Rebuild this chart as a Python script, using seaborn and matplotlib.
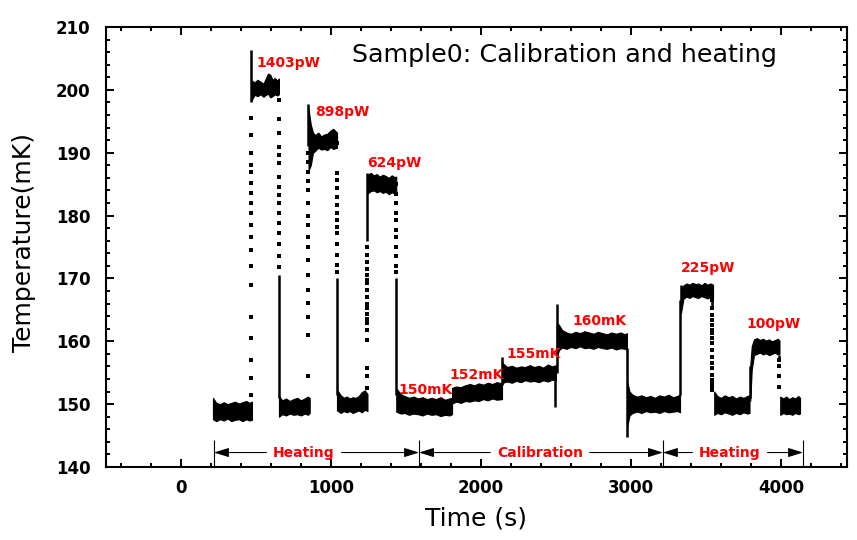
import numpy as np
import pandas as pd
import matplotlib
matplotlib.use("Agg")
import matplotlib.pyplot as plt
from matplotlib.ticker import MultipleLocator
import seaborn as sns

# ---------------------------------------------------------------------------
# Plateaus of the temperature trace: time (s) and the upper / lower edge of the
# noise band (mK) along each plateau.
# ---------------------------------------------------------------------------
base1_t = [213, 235, 260, 285, 310, 335, 360, 385, 410, 435, 455, 473]
base1_hi = [151.0, 150.2, 150.0, 150.3, 150.0, 150.2, 150.4, 150.1, 150.3, 150.5, 150.2, 150.4]
base1_lo = [147.6, 147.3, 147.6, 147.4, 147.7, 147.3, 147.5, 147.6, 147.3, 147.6, 147.4, 147.5]

p1403_t = [470, 490, 510, 530, 550, 565, 580, 595, 610, 625, 640, 653]
p1403_hi = [201.5, 201.2, 201.6, 201.3, 201.0, 201.8, 202.6, 202.4, 201.6, 201.9, 201.5, 201.8]
p1403_lo = [198.3, 199.2, 199.0, 199.3, 198.9, 199.2, 199.4, 198.8, 199.0, 199.3, 199.1, 199.3]

base2_t = [653, 675, 700, 725, 750, 775, 800, 825, 845, 858]
base2_hi = [151.3, 150.6, 150.9, 150.5, 150.8, 151.0, 150.6, 150.9, 151.2, 151.0]
base2_lo = [148.0, 148.4, 148.2, 148.5, 148.3, 148.4, 148.2, 148.5, 148.3, 148.6]

p898_t = [850, 865, 880, 895, 915, 935, 955, 975, 995, 1015, 1040]
p898_hi = [197.0, 194.5, 193.2, 192.8, 193.2, 192.6, 192.9, 193.0, 193.5, 193.8, 193.2]
p898_lo = [187.2, 188.0, 190.0, 190.3, 190.8, 190.5, 190.6, 190.4, 190.9, 190.6, 190.8]

base3_t = [1040, 1065, 1085, 1105, 1125, 1145, 1165, 1185, 1205, 1225, 1243]
base3_hi = [152.3, 151.4, 151.0, 151.2, 150.9, 151.1, 151.0, 151.3, 151.9, 152.2, 151.6]
base3_lo = [149.0, 148.6, 148.9, 148.7, 148.9, 148.6, 148.8, 149.0, 148.7, 149.1, 148.9]

p624_t = [1243, 1265, 1285, 1305, 1325, 1345, 1365, 1385, 1405, 1425, 1435]
p624_hi = [186.5, 186.8, 186.4, 186.6, 186.2, 186.5, 186.3, 186.0, 186.4, 186.1, 186.2]
p624_lo = [183.5, 183.9, 184.0, 183.7, 183.9, 183.6, 183.8, 183.4, 183.7, 183.5, 183.6]

c150_t = [1435, 1465, 1490, 1520, 1550, 1580, 1610, 1640, 1670, 1700, 1730, 1760, 1790, 1807]
c150_hi = [152.5, 151.6, 151.3, 151.0, 151.2, 150.9, 151.1, 150.8, 151.0, 150.8, 151.1, 150.7, 150.9, 151.0]
c150_lo = [148.8, 148.5, 148.6, 148.3, 148.5, 148.4, 148.2, 148.5, 148.3, 148.4, 148.1, 148.3, 148.2, 148.4]

c152_t = [1807, 1835, 1865, 1895, 1925, 1955, 1985, 2015, 2045, 2075, 2105, 2140]
c152_hi = [152.6, 152.8, 152.7, 153.0, 153.2, 153.0, 153.3, 153.1, 153.4, 153.2, 153.5, 153.3]
c152_lo = [150.1, 150.4, 150.2, 150.5, 150.4, 150.6, 150.5, 150.8, 150.6, 150.9, 150.7, 150.8]

c155_t = [2140, 2155, 2175, 2205, 2235, 2265, 2295, 2325, 2355, 2385, 2415, 2445, 2475, 2500]
c155_hi = [156.6, 156.3, 155.9, 156.1, 155.8, 156.0, 155.9, 156.2, 155.9, 156.1, 155.8, 156.3, 156.0, 156.2]
c155_lo = [153.2, 153.5, 153.6, 153.4, 153.7, 153.5, 153.8, 153.6, 153.7, 153.5, 153.8, 153.6, 153.9, 153.7]

c160_t = [2505, 2520, 2540, 2570, 2600, 2630, 2660, 2690, 2720, 2750, 2780, 2810, 2840, 2870, 2900, 2930, 2960, 2973]
c160_hi = [163.0, 162.6, 161.8, 161.4, 161.2, 161.5, 161.3, 161.6, 161.4, 161.2, 161.5, 161.3, 161.1, 161.4, 161.2, 161.4, 161.1, 161.3]
c160_lo = [157.5, 158.6, 159.0, 158.8, 159.1, 158.9, 159.2, 158.9, 159.0, 158.8, 159.1, 158.9, 158.8, 159.0, 158.7, 158.9, 158.8, 158.6]

base5_t = [2975, 2990, 3010, 3040, 3070, 3100, 3130, 3160, 3190, 3220, 3250, 3280, 3310, 3327]
base5_hi = [153.5, 152.0, 151.5, 151.2, 151.4, 151.1, 151.3, 151.0, 151.4, 151.2, 151.5, 151.1, 151.3, 151.6]
base5_lo = [146.5, 148.2, 148.6, 148.8, 148.6, 148.9, 148.7, 148.8, 148.6, 148.9, 148.7, 148.8, 148.9, 148.7]

p225_t = [3333, 3350, 3370, 3390, 3410, 3430, 3450, 3470, 3490, 3510, 3530, 3547]
p225_hi = [168.2, 168.9, 169.2, 169.0, 169.3, 169.1, 169.2, 168.9, 169.3, 169.0, 169.2, 169.0]
p225_lo = [164.5, 166.8, 167.1, 166.9, 167.2, 167.0, 166.9, 167.2, 167.0, 166.8, 167.1, 166.9]

base6_t = [3555, 3575, 3600, 3625, 3650, 3675, 3700, 3725, 3750, 3775, 3790]
base6_hi = [152.0, 151.3, 151.0, 151.4, 151.1, 151.3, 150.9, 151.2, 151.0, 151.3, 151.4]
base6_lo = [148.3, 148.6, 148.4, 148.7, 148.5, 148.3, 148.6, 148.4, 148.7, 148.5, 148.6]

p100_t = [3795, 3805, 3820, 3840, 3860, 3880, 3900, 3920, 3940, 3960, 3980, 3990]
p100_hi = [156.0, 159.2, 160.3, 160.5, 160.2, 160.4, 160.1, 160.3, 160.0, 160.2, 160.4, 160.1]
p100_lo = [150.5, 155.5, 157.8, 158.0, 158.2, 157.9, 158.1, 157.8, 158.0, 158.2, 157.9, 158.0]

base7_t = [3995, 4015, 4035, 4055, 4075, 4095, 4115, 4127]
base7_hi = [151.2, 150.9, 151.2, 150.8, 151.1, 150.9, 151.3, 151.0]
base7_lo = [148.3, 148.6, 148.4, 148.5, 148.3, 148.6, 148.4, 148.5]

# ---------------------------------------------------------------------------
# Switching edges: time (s) of each edge, isolated readings (mK) recorded while
# the temperature moved, and the densely sampled span (mK) of each edge.
# ---------------------------------------------------------------------------
edge_times = [467, 650, 849, 1040, 1242, 1433, 2143, 2493, 2505, 2971, 3327, 3336, 3543, 3792, 3989]

edge1_dots = [151.5, 154.2, 157.0, 160.5, 163.9, 169.0, 172.0, 174.5, 176.6, 178.5, 180.4,
              182.0, 183.6, 185.2, 187.0, 188.0, 190.0, 192.8, 195.5]
edge2_dots = [198.4, 195.4, 193.1, 190.9, 189.6, 188.4, 186.1, 184.5, 183.3, 182.0, 180.4,
              178.8, 177.2, 175.5, 173.6, 171.8]
edge3_dots = [154.4, 161.0, 163.9, 166.1, 168.2, 170.5, 173.0, 175.0, 176.6, 178.5, 180.0,
              182.0, 184.0, 185.5, 187.0, 188.5, 190.0]
edge4_dots = [191.5, 186.8, 185.7, 184.4, 183.0, 181.7, 180.4, 179.3, 178.2, 177.2, 175.5,
              173.8, 172.2, 171.0]
edge5_dots = [152.5, 154.4, 155.7, 160.2, 161.8, 162.9, 163.6, 164.4, 165.3, 166.0, 167.1,
              168.2, 169.3, 169.8, 170.5, 171.5, 172.6, 173.8, 175.0]
edge6_dots = [185.0, 183.5, 182.0, 180.4, 179.3, 177.7, 176.6, 175.0, 173.5, 172.0, 171.0]
edge13_dots = [167.3, 166.5, 165.3, 164.2, 163.4, 162.6, 161.8, 161.3, 160.5, 159.7, 158.6,
               157.5, 156.5, 155.7, 154.6, 153.8, 153.3, 152.8, 152.2]
edge15_dots = [157.0, 156.0, 154.4, 152.8]

edge_span_lo = [198.0, 151.0, 191.0, 151.5, 176.0, 151.5, 153.0, 149.5, 155.0, 144.8, 151.5, 166.0, 165.5, 151.0, 157.0]
edge_span_hi = [206.3, 170.5, 197.7, 170.0, 186.8, 170.0, 157.5, 154.0, 166.0, 159.0, 166.5, 169.0, 168.5, 156.0, 157.8]

# Annotations
title_text = "Sample0: Calibration and heating"
level_labels = ["1403pW", "898pW", "624pW", "150mK", "152mK", "155mK", "160mK", "225pW", "100pW"]
level_label_t = [500, 893, 1240, 1447, 1787, 2167, 2607, 3333, 3773]
level_label_T = [204.3, 196.4, 188.4, 152.3, 154.6, 158.0, 163.2, 171.7, 162.7]

phase_names = ["Heating", "Calibration", "Heating"]
phase_bounds = [220, 1587, 3213, 4147]
phase_text_t = [820, 2393, 3660]
phase_T = 142.3
phase_line_top = 144.3

x_label = "Time (s)"
y_label = "Temperature(mK)"

# ---------------------------------------------------------------------------
plateaus = {
    "base1": (base1_t, base1_hi, base1_lo),
    "p1403": (p1403_t, p1403_hi, p1403_lo),
    "base2": (base2_t, base2_hi, base2_lo),
    "p898": (p898_t, p898_hi, p898_lo),
    "base3": (base3_t, base3_hi, base3_lo),
    "p624": (p624_t, p624_hi, p624_lo),
    "c150": (c150_t, c150_hi, c150_lo),
    "c152": (c152_t, c152_hi, c152_lo),
    "c155": (c155_t, c155_hi, c155_lo),
    "c160": (c160_t, c160_hi, c160_lo),
    "base5": (base5_t, base5_hi, base5_lo),
    "p225": (p225_t, p225_hi, p225_lo),
    "base6": (base6_t, base6_hi, base6_lo),
    "p100": (p100_t, p100_hi, p100_lo),
    "base7": (base7_t, base7_hi, base7_lo),
}
rows = []
for seg, (ts, his, los) in plateaus.items():
    for t, h, l in zip(ts, his, los):
        rows.append((seg, t, h))
        rows.append((seg, t, l))
band_df = pd.DataFrame(rows, columns=["segment", "time", "temp"])

edge_dot_sets = {0: edge1_dots, 1: edge2_dots, 2: edge3_dots, 3: edge4_dots,
                 4: edge5_dots, 5: edge6_dots, 12: edge13_dots, 14: edge15_dots}
dot_rows = []
for idx, temps in edge_dot_sets.items():
    for T in temps:
        dot_rows.append((edge_times[idx], T))
dot_df = pd.DataFrame(dot_rows, columns=["time", "temp"])

sns.set_theme(style="ticks")
plt.rcParams["font.family"] = ["DejaVu Sans"]
plt.rcParams["axes.edgecolor"] = "black"
plt.rcParams["axes.labelcolor"] = "black"
plt.rcParams["text.color"] = "black"
plt.rcParams["xtick.color"] = "black"
plt.rcParams["ytick.color"] = "black"

fig = plt.figure(figsize=(8.57, 5.40), dpi=100)
ax = fig.add_axes([0.1237, 0.1352, 0.8646, 0.8148])

# noise bands of the plateaus (min..max of the band edges at each time)
sns.lineplot(data=band_df, x="time", y="temp", hue="segment",
             palette={s: "black" for s in plateaus}, errorbar=("pi", 100),
             err_kws=dict(alpha=1, linewidth=0.8, edgecolor="black"),
             linewidth=0, legend=False, ax=ax)

# densely sampled parts of the switching edges
ax.vlines(edge_times, edge_span_lo, edge_span_hi, color="black", linewidth=1.8)

# individual readings along the edges
sns.scatterplot(data=dot_df, x="time", y="temp", marker="s", s=6,
                color="black", linewidth=0, ax=ax)

# level labels
for txt, t, T in zip(level_labels, level_label_t, level_label_T):
    ax.text(t, T, txt, color="red", fontsize=10, fontweight="bold",
            ha="left", va="center")

# phase markers along the bottom
ax.vlines(phase_bounds, 140, phase_line_top, color="black", linewidth=0.8)
arrow_style = dict(arrowstyle="-|>,head_length=0.9,head_width=0.28", color="black",
                   linewidth=0.8, shrinkA=2.5, shrinkB=0, mutation_scale=10)
for name, tc, a, b in zip(phase_names, phase_text_t, phase_bounds[:-1], phase_bounds[1:]):
    ax.annotate(name, xy=(a, phase_T), xytext=(tc, phase_T), color="red",
                fontsize=10, fontweight="bold", ha="center", va="center",
                arrowprops=arrow_style)
    ax.annotate(name, xy=(b, phase_T), xytext=(tc, phase_T), color="none",
                fontsize=10, fontweight="bold", ha="center", va="center",
                arrowprops=arrow_style)

ax.text(0.332, 0.920, title_text, transform=ax.transAxes, fontsize=18.3,
        color="black", ha="left", va="baseline")

ax.set_xlim(-500, 4440)
ax.set_ylim(140, 210)
ax.xaxis.set_major_locator(MultipleLocator(1000))
ax.xaxis.set_minor_locator(MultipleLocator(200))
ax.yaxis.set_major_locator(MultipleLocator(10))
ax.yaxis.set_minor_locator(MultipleLocator(2))
ax.tick_params(which="both", direction="in", top=True, right=True, width=1.4,
               colors="black")
ax.tick_params(which="major", length=6)
ax.tick_params(which="minor", length=3.2)
ax.tick_params(axis="x", which="major", pad=8.5, labelsize=12)
ax.tick_params(axis="y", which="major", pad=11, labelsize=12)
plt.setp(ax.get_xticklabels() + ax.get_yticklabels(), fontweight="bold")
for sp in ax.spines.values():
    sp.set_linewidth(1.5)
    sp.set_color("black")

ax.set_xlabel(x_label, fontsize=18, color="black")
ax.set_ylabel(y_label, fontsize=18, color="black")
ax.xaxis.set_label_coords(0.5, -0.09)
ax.yaxis.set_label_coords(-0.095, 0.51)
ax.grid(False)

fig.savefig("out.png", dpi=100)
